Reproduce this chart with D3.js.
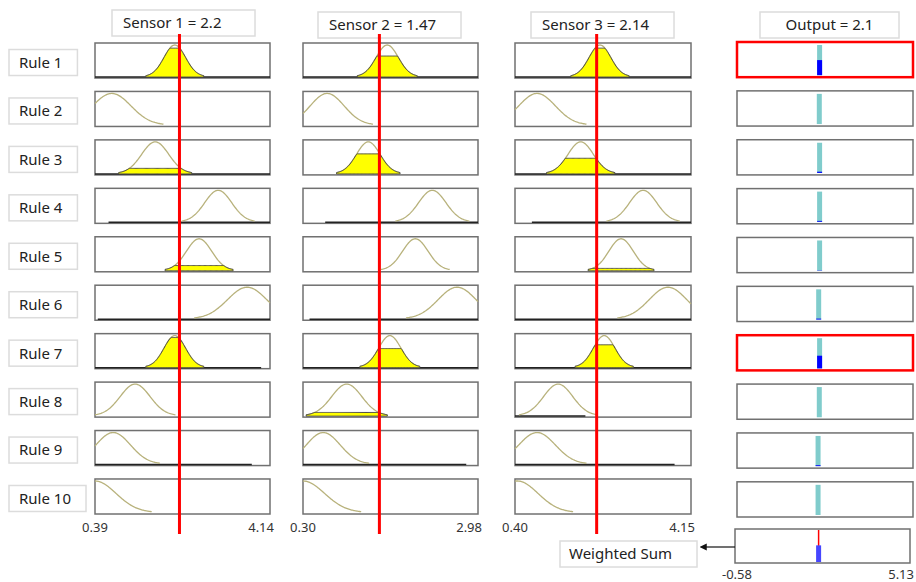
<!DOCTYPE html>
<html>
<head>
<meta charset="utf-8">
<script src="https://cdn.jsdelivr.net/npm/d3@7"></script>
<style>
  body { margin: 0; background: #fff; }
  text { font-family: "Noto Sans", "Open Sans", sans-serif; }
</style>
</head>
<body>
<div id="chart"></div>
<script>
const rules = ['Rule 1', 'Rule 2', 'Rule 3', 'Rule 4', 'Rule 5', 'Rule 6', 'Rule 7', 'Rule 8', 'Rule 9', 'Rule 10'];
const sensorNames = ['Sensor 1', 'Sensor 2', 'Sensor 3'];
const sensorValues = [2.2, 1.47, 2.14];
const sensorDomains = [[0.39, 4.14], [0.30, 2.98], [0.40, 4.15]];
const outputDomain = [-0.58, 5.13];
const outputValue = 2.1;

// gaussian membership functions per rule: [center, sigma]
const mfSensor1 = [[2.10, 0.23], [0.75, 0.41], [1.68, 0.29], [3.03, 0.29], [2.62, 0.27], [3.65, 0.42], [2.10, 0.23], [1.25, 0.32], [0.78, 0.37], [0.39, 0.45]];
const mfSensor2 = [[1.59, 0.17], [0.67, 0.26], [1.30, 0.18], [2.28, 0.21], [2.02, 0.195], [2.66, 0.29], [1.63, 0.17], [0.97, 0.23], [0.61, 0.26], [0.30, 0.33]];
const mfSensor3 = [[2.21, 0.23], [0.87, 0.39], [1.80, 0.27], [3.13, 0.29], [2.66, 0.26], [3.66, 0.40], [2.30, 0.23], [1.32, 0.31], [0.87, 0.39], [0.45, 0.44]];

// membership degree reached by the input (height of the yellow fill)
const fireSensor1 = [0.9, 0, 0.16, 0, 0.15, 0, 0.94, 0, 0, 0];
const fireSensor2 = [0.65, 0, 0.62, 0, 0, 0, 0.59, 0.1, 0, 0];
const fireSensor3 = [0.9, 0, 0.48, 0, 0.06, 0, 0.71, 0, 0, 0];

// dark trace along the bottom of a cell: [from, to] in input units
const traceSensor1 = [[0.39, 4.14], null, [0.39, 4.14], [0.68, 4.14], null, [0.45, 4.14], [0.39, 3.95], null, [0.39, 3.75], null];
const traceSensor2 = [[0.30, 2.98], null, null, [0.64, 2.98], null, [0.40, 2.98], [0.30, 2.98], null, [0.30, 2.80], null];
const traceSensor3 = [[0.40, 4.15], null, [0.40, 4.15], [0.76, 4.15], null, [0.40, 4.15], [0.40, 4.15], [0.40, 1.90], [0.40, 3.80], null];

// rule consequents and firing strengths
const ruleOutputs = [2.10, 2.09, 2.10, 2.10, 2.10, 2.07, 2.10, 2.09, 2.05, 2.05];
const ruleStrengths = [0.5, 0, 0.04, 0.03, 0.01, 0.03, 0.42, 0, 0.03, 0];
const firedRules = ['Rule 1', 'Rule 7'];
const weightedSumStrength = 0.52;

const mfs = [mfSensor1, mfSensor2, mfSensor3];
const fires = [fireSensor1, fireSensor2, fireSensor3];
const traces = [traceSensor1, traceSensor2, traceSensor3];

const width = 916;
const height = 582;
const colRanges = [[95, 270], [303, 478], [515, 691]];
const headerBoxes = [[112, 10], [318, 12], [531, 12]];

const svg = d3.select('#chart')
  .append('svg')
  .attr('width', width)
  .attr('height', height);

svg.append('defs')
  .append('marker')
  .attr('id', 'arrow')
  .attr('viewBox', '0 0 10 10')
  .attr('refX', 1)
  .attr('refY', 5)
  .attr('markerWidth', 6)
  .attr('markerHeight', 6)
  .attr('orient', 'auto-start-reverse')
  .append('path')
  .attr('d', 'M0,0L10,5L0,10z')
  .attr('fill', '#111');

const yRows = d3.scaleBand().domain(rules).range([43, 514]).paddingInner(0.277);
const yOutRows = d3.scaleBand().domain(rules).range([42, 517]).paddingInner(0.28);
const xOut = d3.scaleLinear().domain(outputDomain).range([737, 913]);

const gauss = (x, c, s) => Math.exp(-0.5 * ((x - c) / s) ** 2);

// rule labels
rules.forEach(r => {
  const cy = yRows(r) + yRows.bandwidth() / 2 + 2;
  const g = svg.append('g');
  const t = g.append('text')
    .attr('x', 19)
    .attr('y', cy)
    .attr('dy', '0.36em')
    .attr('font-size', 15)
    .attr('fill', '#222')
    .text(r);
  const tw = t.node().getComputedTextLength();
  g.insert('rect', 'text')
    .attr('x', 9)
    .attr('y', cy - 13)
    .attr('width', tw + 25)
    .attr('height', 26)
    .attr('fill', '#fff')
    .attr('stroke', '#dcdcdc')
    .attr('stroke-width', 1.5);
});

// sensor columns
sensorNames.forEach((name, i) => {
  const x = d3.scaleLinear().domain(sensorDomains[i]).range(colRanges[i]);
  const [d0, d1] = sensorDomains[i];

  rules.forEach((r, k) => {
    const top = yRows(r);
    const bottom = top + yRows.bandwidth();
    const y = d3.scaleLinear().domain([0, 1]).range([bottom - 1.5, top + 2]);
    const [c, s] = mfs[i][k];
    const lo = Math.max(d0, c - 2.7 * s);
    const hi = Math.min(d1, c + 2.7 * s);
    const xs = d3.range(lo, hi, (hi - lo) / 80).concat([hi]);

    svg.append('rect')
      .attr('x', x(d0))
      .attr('y', top)
      .attr('width', x(d1) - x(d0))
      .attr('height', bottom - top)
      .attr('fill', '#fff')
      .attr('stroke', '#707070')
      .attr('stroke-width', 1.5);

    const tr = traces[i][k];
    if (tr) {
      svg.append('line')
        .attr('x1', x(tr[0]))
        .attr('x2', x(tr[1]))
        .attr('y1', bottom - 1)
        .attr('y2', bottom - 1)
        .attr('stroke', '#222')
        .attr('stroke-width', 1.5);
    }

    svg.append('path')
      .attr('d', d3.line().x(v => x(v)).y(v => y(gauss(v, c, s)))(xs))
      .attr('fill', 'none')
      .attr('stroke', '#b8b27c')
      .attr('stroke-width', 1.3);

    const level = fires[i][k];
    if (level > 0) {
      svg.append('path')
        .attr('d', d3.area()
          .x(v => x(v))
          .y0(bottom - 1)
          .y1(v => y(Math.min(level, gauss(v, c, s))))(xs))
        .attr('fill', '#ffff00')
        .attr('stroke', '#4a4a4a')
        .attr('stroke-width', 1);
    }
  });

  // header
  const [hx, hy] = headerBoxes[i];
  svg.append('rect')
    .attr('x', hx)
    .attr('y', hy)
    .attr('width', 143)
    .attr('height', 26)
    .attr('fill', '#fff')
    .attr('stroke', '#dcdcdc')
    .attr('stroke-width', 1.5);
  svg.append('text')
    .attr('x', hx + 11)
    .attr('y', hy + 13)
    .attr('dy', '0.36em')
    .attr('font-size', 15)
    .attr('fill', '#222')
    .text(name + ' = ' + sensorValues[i]);

  // range labels
  svg.append('text')
    .attr('x', x(d0))
    .attr('y', 532)
    .attr('text-anchor', 'middle')
    .attr('font-size', 13)
    .attr('fill', '#333')
    .text(d3.format('.2f')(d0));
  svg.append('text')
    .attr('x', x(d1) + 4)
    .attr('y', 532)
    .attr('text-anchor', 'end')
    .attr('font-size', 13)
    .attr('fill', '#333')
    .text(d3.format('.2f')(d1));

  // input value line
  svg.append('line')
    .attr('x1', x(sensorValues[i]))
    .attr('x2', x(sensorValues[i]))
    .attr('y1', 34)
    .attr('y2', 534)
    .attr('stroke', '#ff0000')
    .attr('stroke-width', 3);
});

// output column
rules.forEach((r, k) => {
  const top = yOutRows(r);
  const bottom = top + yOutRows.bandwidth();
  const fired = firedRules.includes(r);
  const y = d3.scaleLinear().domain([0, 1]).range([bottom - 2, top + 3]);

  svg.append('rect')
    .attr('x', xOut.range()[0])
    .attr('y', top)
    .attr('width', xOut.range()[1] - xOut.range()[0])
    .attr('height', bottom - top)
    .attr('fill', '#fff')
    .attr('stroke', fired ? '#ff0000' : '#707070')
    .attr('stroke-width', fired ? 2.5 : 1.5);

  svg.append('rect')
    .attr('x', xOut(ruleOutputs[k]) - 2.5)
    .attr('y', y(1))
    .attr('width', 5)
    .attr('height', y(0) - y(1))
    .attr('fill', '#80cccc');

  if (ruleStrengths[k] > 0) {
    svg.append('rect')
      .attr('x', xOut(ruleOutputs[k]) - 2.5)
      .attr('y', y(ruleStrengths[k]))
      .attr('width', 5)
      .attr('height', y(0) - y(ruleStrengths[k]))
      .attr('fill', '#0000ff');
  }
});

// output header
svg.append('rect')
  .attr('x', 760)
  .attr('y', 12)
  .attr('width', 139)
  .attr('height', 26)
  .attr('fill', '#fff')
  .attr('stroke', '#dcdcdc')
  .attr('stroke-width', 1.5);
svg.append('text')
  .attr('x', 829.5)
  .attr('y', 25)
  .attr('dy', '0.36em')
  .attr('text-anchor', 'middle')
  .attr('font-size', 15)
  .attr('fill', '#222')
  .text('Output = ' + outputValue);

// weighted sum cell
const wsTop = 529;
const wsBottom = 563;
const wsY = d3.scaleLinear().domain([0, 1]).range([wsBottom - 1, wsTop + 1]);
svg.append('rect')
  .attr('x', 735)
  .attr('y', wsTop)
  .attr('width', 175)
  .attr('height', wsBottom - wsTop)
  .attr('fill', '#fff')
  .attr('stroke', '#707070')
  .attr('stroke-width', 1.5);
svg.append('line')
  .attr('x1', xOut(outputValue) - 1)
  .attr('x2', xOut(outputValue) - 1)
  .attr('y1', wsTop + 1)
  .attr('y2', wsBottom - 1)
  .attr('stroke', '#ff0000')
  .attr('stroke-width', 1.5);
svg.append('rect')
  .attr('x', xOut(outputValue) - 3.5)
  .attr('y', wsY(weightedSumStrength))
  .attr('width', 5)
  .attr('height', wsY(0) - wsY(weightedSumStrength))
  .attr('fill', '#4646ff');

svg.append('text')
  .attr('x', xOut.range()[0])
  .attr('y', 579)
  .attr('text-anchor', 'middle')
  .attr('font-size', 13)
  .attr('fill', '#333')
  .text(d3.format('.2f')(outputDomain[0]).replace('\u2212', '-'));
svg.append('text')
  .attr('x', 914)
  .attr('y', 579)
  .attr('text-anchor', 'end')
  .attr('font-size', 13)
  .attr('fill', '#333')
  .text(d3.format('.2f')(outputDomain[1]));

// weighted sum label with arrow
svg.append('line')
  .attr('x1', 735)
  .attr('x2', 706)
  .attr('y1', 547)
  .attr('y2', 547)
  .attr('stroke', '#111')
  .attr('stroke-width', 1.2)
  .attr('marker-end', 'url(#arrow)');
svg.append('rect')
  .attr('x', 560)
  .attr('y', 541)
  .attr('width', 137)
  .attr('height', 26)
  .attr('fill', '#fff')
  .attr('stroke', '#dcdcdc')
  .attr('stroke-width', 1.5);
svg.append('text')
  .attr('x', 569)
  .attr('y', 554)
  .attr('dy', '0.36em')
  .attr('font-size', 15)
  .attr('fill', '#222')
  .text('Weighted Sum');
</script>
</body>
</html>
